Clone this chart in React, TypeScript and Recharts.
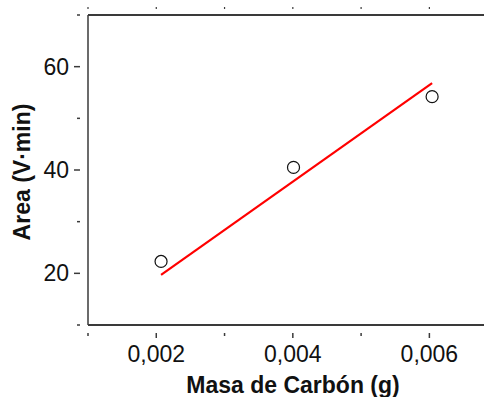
import React from 'react';
import { ComposedChart, Scatter, Line, XAxis, YAxis } from 'recharts';

// measured points
const masa = [0.00207, 0.00401, 0.00604];
const area = [22.3, 40.5, 54.2];

// linear fit endpoints
const fitX = [0.00207, 0.00604];
const fitY = [19.7, 56.8];

const xTicks = [0.001, 0.002, 0.003, 0.004, 0.005, 0.006];
const xLabelTicks = [0.002, 0.004, 0.006];
const yTicks = [10, 20, 30, 40, 50, 60, 70];
const yLabelTicks = [20, 40, 60];

const points = masa.map((x, i) => ({ x, y: area[i] }));
const fitLine = fitX.map((x, i) => ({ x, y: fitY[i] }));

const FONT = '"Liberation Sans", Arial, sans-serif';
const AXIS = '#3a3a3a';

const near = (a: number, list: number[]) => list.some(v => Math.abs(v - a) < 1e-9);

const BottomTick = (props: any) => {
  const { x, y, payload } = props;
  const major = near(payload.value, xLabelTicks);
  return (
    <g>
      <line x1={x} x2={x} y1={y} y2={y + (major ? 5 : 3)} stroke={AXIS} strokeWidth={1.5} />
      {major && (
        <text x={x} y={y + 29} textAnchor="middle" fontSize={23} fontFamily={FONT} fill="#111">
          {payload.value.toFixed(3).replace('.', ',')}
        </text>
      )}
    </g>
  );
};

const TopTick = (props: any) => {
  const { x, y } = props;
  return <line x1={x} x2={x} y1={y} y2={y + 2} stroke={AXIS} strokeWidth={1.2} />;
};

const LeftTick = (props: any) => {
  const { x, y, payload } = props;
  const major = near(payload.value, yLabelTicks);
  return (
    <g>
      <line x1={x} x2={x - (major ? 6 : 3)} y1={y} y2={y} stroke={AXIS} strokeWidth={1.5} />
      {major && (
        <text x={x - 11} y={y + 8} textAnchor="end" fontSize={23} fontFamily={FONT} fill="#111">
          {payload.value}
        </text>
      )}
    </g>
  );
};

const Circle = (props: any) => {
  const { cx, cy } = props;
  return <circle cx={cx} cy={cy} r={6} fill="#fff" stroke="#111" strokeWidth={1.2} />;
};

export default function App() {
  return (
    <div style={{ position: 'absolute', left: 0, top: 0, background: '#fff' }}>
      <ComposedChart width={484} height={397} margin={{ top: 14, right: 0, bottom: 0, left: 0 }}>
        <XAxis
          xAxisId="bottom"
          dataKey="x"
          type="number"
          domain={[0.001, 0.0068]}
          ticks={xTicks}
          allowDataOverflow
          axisLine={{ stroke: AXIS, strokeWidth: 2 }}
          tickLine={false}
          tick={<BottomTick />}
          height={72}
          label={(p: any) => (
            <text
              x={293}
              y={393}
              textAnchor="middle"
              fontSize={23}
              fontWeight="bold"
              fontFamily={FONT}
              fill="#111"
            >
              Masa de Carbón (g)
            </text>
          )}
        />
        <XAxis
          xAxisId="top"
          orientation="top"
          dataKey="x"
          type="number"
          domain={[0.001, 0.0068]}
          ticks={xTicks}
          allowDataOverflow
          axisLine={{ stroke: AXIS, strokeWidth: 2 }}
          tickLine={false}
          tick={<TopTick />}
          height={1}
        />
        <YAxis
          yAxisId="left"
          dataKey="y"
          type="number"
          domain={[10, 70]}
          ticks={yTicks}
          allowDataOverflow
          axisLine={{ stroke: AXIS, strokeWidth: 1.5 }}
          tickLine={false}
          tick={<LeftTick />}
          width={88}
          label={(p: any) => (
            <text
              x={30}
              y={172}
              transform="rotate(-90 30 172)"
              textAnchor="middle"
              fontSize={23}
              fontWeight="bold"
              fontFamily={FONT}
              fill="#111"
            >
              Area (V·min)
            </text>
          )}
        />
        <Line
          xAxisId="bottom"
          yAxisId="left"
          data={fitLine}
          dataKey="y"
          stroke="#ff0000"
          strokeWidth={2.2}
          dot={false}
          isAnimationActive={false}
        />
        <Scatter
          xAxisId="bottom"
          yAxisId="left"
          data={points}
          dataKey="y"
          shape={<Circle />}
          isAnimationActive={false}
        />
      </ComposedChart>
    </div>
  );
}
